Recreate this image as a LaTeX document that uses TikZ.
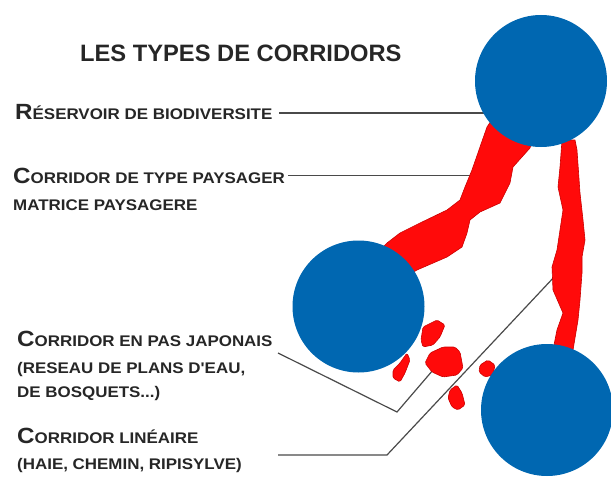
\documentclass[tikz,border=0pt]{standalone}
\usepackage{fontspec}
\setmainfont{Liberation Sans}
\newfontfamily\legendfont{Liberation Sans}[FakeStretch=1.1]

\definecolor{resblue}{HTML}{0067B1}
\definecolor{corred}{HTML}{FF0A0A}
\definecolor{leadgray}{HTML}{4A4A4A}

\newcommand{\bigsc}[2]{{\fontsize{22}{22}\selectfont #1}{\fontsize{15.4}{15.4}\selectfont #2}}

\begin{document}
\begin{tikzpicture}[x=1pt,y=-1pt,
    legend/.style={anchor=base west, inner sep=0pt, font=\legendfont\bfseries, text=black!85},
    smalllegend/.style={legend, font=\legendfont\bfseries\fontsize{15.4}{15.4}\selectfont},
    leader/.style={draw=leadgray, line width=1.4pt},
    corridor/.style={fill=corred, draw=red!80!black, line width=0.6pt, line join=round},
    stone/.style={corridor, rounded corners=1.5pt},
    reservoir/.style={circle, fill=resblue, minimum size=132pt, inner sep=0pt}]
        \useasboundingbox (0,0) rectangle (611,487);
        % titre et legendes
        \node[anchor=base west, inner sep=0pt, font=\bfseries\fontsize{23.7}{24}\selectfont, text=black!85] (title) at (80,62) {LES TYPES DE CORRIDORS};
        \node[legend] (res) at (15,119) {\bigsc{R}{ÉSERVOIR DE BIODIVERSITE}};
        \node[legend] (pays) at (13,183) {\bigsc{C}{ORRIDOR DE TYPE PAYSAGER}};
        \node[smalllegend] (matrice) at (13,210) {MATRICE PAYSAGERE};
        \node[legend] (japo) at (17,346) {\bigsc{C}{ORRIDOR EN PAS JAPONAIS}};
        \node[smalllegend] (reseau) at (17,373) {(RESEAU DE PLANS D'EAU,};
        \node[smalllegend] (bosq) at (17,397) {DE BOSQUETS...)};
        \node[legend] (lin) at (17,443) {\bigsc{C}{ORRIDOR LINÉAIRE}};
        \node[smalllegend] (haie) at (17,469) {(HAIE, CHEMIN, RIPISYLVE)};
        % traits de rappel
        \coordinate (resA) at (279,113);
        \coordinate (resB) at (485,113);
        \coordinate (paysA) at (288,175.5);
        \coordinate (paysB) at (470,175.5);
        \coordinate (japoA) at (278,353);
        \coordinate (japoK) at (397,412);
        \coordinate (japoB) at (433,370);
        \coordinate (linA) at (278,455);
        \coordinate (linK) at (387,455);
        \coordinate (linB) at (556,275);
        \draw[leader] (resA) -- (resB);
        \draw[leader] (paysA) -- (paysB);
        \draw[leader, line width=1.2pt] (japoA) -- (japoK) -- (japoB);
        \draw[leader, line width=1.2pt] (linA) -- (linK) -- (linB);
        % corridor paysager
        \draw[corridor] (495,115) -- (487,127) -- (480,147) -- (472,170) -- (465,187) -- (460,200)
            -- (447,210) -- (420,223) -- (400,233) -- (387,243) -- (375,255) -- (400,280)
            -- (417,270) -- (447,257) -- (462,247) -- (467,233) -- (470,220) -- (480,212)
            -- (500,203) -- (510,183) -- (513,167) -- (530,148) -- (535,130) -- cycle;
        % corridor lineaire
        \draw[corridor] (562,140) -- (560,167) -- (558,187) -- (563,210) -- (557,250) -- (552,267)
            -- (553,290) -- (563,313) -- (557,330) -- (553,350) -- (573,350) -- (578,320)
            -- (580,300) -- (582,273) -- (582,257) -- (585,240) -- (583,220) -- (580,193)
            -- (577,150) -- (575,140) -- cycle;
        % pas japonais
        \draw[stone] (423,327) -- (437,320) -- (445,325) -- (440,337) -- (433,345) -- (423,347) -- (421,340) -- cycle;
        \draw[stone] (407,353) -- (410,360) -- (405,373) -- (400,382) -- (393,378) -- (393,370) -- (400,363) -- cycle;
        \draw[stone] (430,353) -- (443,347) -- (455,347) -- (460,352) -- (463,368) -- (457,375) -- (443,377) -- (432,372) -- (425,363) -- cycle;
        \draw[stone] (480,365) -- (488,360) -- (495,365) -- (493,375) -- (485,377) -- (479,372) -- cycle;
        \draw[stone] (450,390) -- (457,385) -- (462,393) -- (465,405) -- (458,410) -- (452,407) -- (448,398) -- cycle;
        % reservoirs
        \node[reservoir] (resTop) at (541,81) {};
        \node[reservoir] (resMid) at (358.5,306.5) {};
        \node[reservoir] (resBot) at (547,410) {};
\end{tikzpicture}
\end{document}
